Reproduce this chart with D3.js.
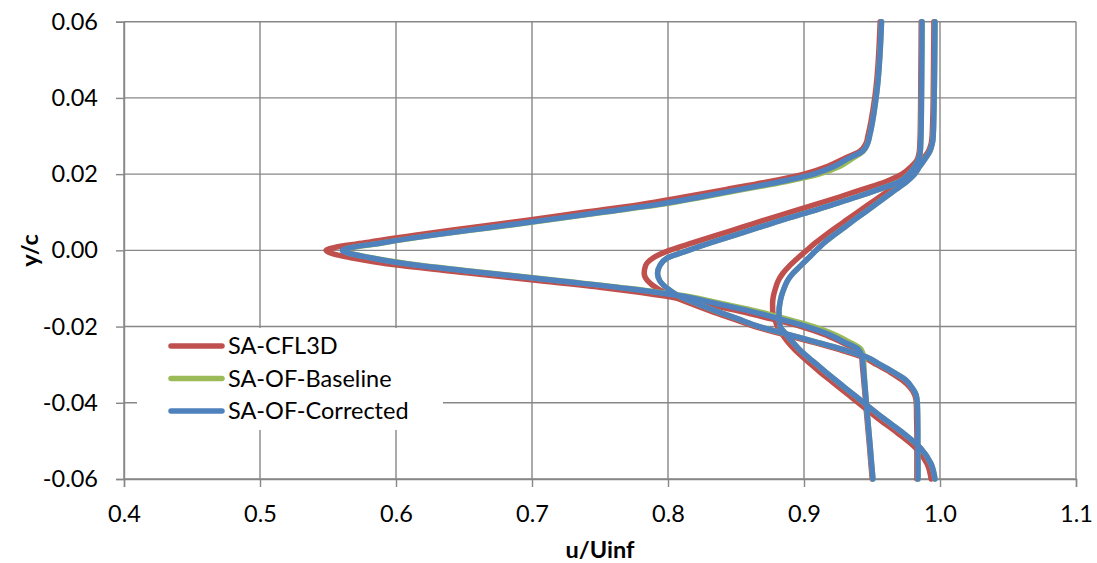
<!DOCTYPE html>
<html>
<head>
<meta charset="utf-8">
<script src="https://cdn.jsdelivr.net/npm/d3@7"></script>
<style>
  body { margin: 0; background: #fff; }
  text { font-family: Lato, "Open Sans", sans-serif; fill: #000; }
</style>
</head>
<body>
<div id="chart"></div>
<script>
// y/c stations shared by every profile
var yc = [0.06, 0.04, 0.03, 0.028, 0.026, 0.024, 0.022, 0.020, 0.018, 0.016, 0.014,
  0.012, 0.010, 0.008, 0.006, 0.004, 0.002, 0.000, -0.002, -0.004, -0.006, -0.008,
  -0.010, -0.012, -0.014, -0.016, -0.018, -0.020, -0.022, -0.024, -0.026, -0.028,
  -0.030, -0.032, -0.034, -0.036, -0.038, -0.040, -0.044, -0.048, -0.052, -0.056, -0.060];

// SA-CFL3D, three wake stations
var cfl3dA = [0.956, 0.952, 0.947, 0.9455, 0.941, 0.929, 0.917, 0.900, 0.874, 0.843, 0.812,
  0.779, 0.738, 0.698, 0.656, 0.614, 0.577, 0.5485, 0.568, 0.604, 0.655, 0.706,
  0.757, 0.798, 0.826, 0.853, 0.876, 0.898, 0.9145, 0.927, 0.9385, 0.9425,
  0.9429, 0.9434, 0.9439, 0.9444, 0.9449, 0.9453, 0.9463, 0.9473, 0.9483, 0.9492, 0.9502];
var cfl3dB = [0.9862, 0.9858, 0.9854, 0.9852, 0.9848, 0.9835, 0.979, 0.972, 0.960, 0.943, 0.926,
  0.908, 0.890, 0.8715, 0.854, 0.836, 0.8185, 0.801, 0.789, 0.7835, 0.7825, 0.785,
  0.792, 0.803, 0.817, 0.832, 0.848, 0.864, 0.8845, 0.9055, 0.9255, 0.943,
  0.9535, 0.9635, 0.972, 0.978, 0.9815, 0.9826, 0.9828, 0.983, 0.983, 0.983, 0.983];
var cfl3dC = [0.9955, 0.995, 0.9942, 0.9935, 0.9915, 0.9875, 0.983, 0.978, 0.9715, 0.9635, 0.9555,
  0.9475, 0.9395, 0.9315, 0.9235, 0.9158, 0.9085, 0.902, 0.8955, 0.8895, 0.8845, 0.881,
  0.879, 0.8775, 0.8769, 0.877, 0.8785, 0.8805, 0.884, 0.888, 0.893, 0.899,
  0.9055, 0.912, 0.919, 0.926, 0.933, 0.940, 0.954, 0.969, 0.9825, 0.9905, 0.9935];

// SA-OF-Baseline
var baseA = [0.957, 0.953, 0.9482, 0.9467, 0.9435, 0.935, 0.926, 0.911, 0.886, 0.856, 0.826,
  0.794, 0.753, 0.713, 0.671, 0.628, 0.591, 0.561, 0.583, 0.619, 0.670, 0.721,
  0.772, 0.813, 0.840, 0.866, 0.887, 0.907, 0.922, 0.933, 0.942, 0.9438,
  0.9440, 0.9443, 0.9446, 0.9450, 0.9454, 0.9458, 0.9468, 0.9478, 0.9488, 0.9497, 0.9507];
var baseB = [0.9868, 0.9864, 0.986, 0.9858, 0.9855, 0.9845, 0.9815, 0.977, 0.970, 0.955, 0.9387,
  0.9212, 0.9034, 0.8843, 0.8668, 0.8492, 0.8316, 0.815, 0.7995, 0.794, 0.7923, 0.794,
  0.7995, 0.808, 0.8213, 0.836, 0.8515, 0.867, 0.8875, 0.9085, 0.9287, 0.946,
  0.956, 0.966, 0.9747, 0.9794, 0.9825, 0.9833, 0.9836, 0.9837, 0.9837, 0.9838, 0.9838];
var baseC = [0.9963, 0.9957, 0.995, 0.9943, 0.9925, 0.989, 0.985, 0.9813, 0.9753, 0.9677, 0.960,
  0.9525, 0.9448, 0.937, 0.9296, 0.922, 0.9149, 0.909, 0.9033, 0.8976, 0.8919, 0.8878,
  0.8853, 0.8834, 0.8822, 0.8816, 0.8818, 0.8826, 0.8868, 0.8915, 0.8966, 0.9029,
  0.9096, 0.9162, 0.923, 0.930, 0.937, 0.944, 0.9581, 0.9732, 0.986, 0.9934, 0.9963];

// SA-OF-Corrected
var corrA = [0.957, 0.953, 0.9482, 0.9467, 0.943, 0.932, 0.922, 0.907, 0.8825, 0.853, 0.8235,
  0.7915, 0.7507, 0.711, 0.6694, 0.627, 0.590, 0.5605, 0.582, 0.617, 0.668, 0.719,
  0.770, 0.810, 0.836, 0.861, 0.882, 0.902, 0.918, 0.929, 0.940, 0.9428,
  0.9434, 0.9439, 0.9444, 0.9449, 0.9454, 0.9458, 0.9468, 0.9478, 0.9488, 0.9497, 0.9507];
var corrB = [0.9868, 0.9864, 0.986, 0.9858, 0.9855, 0.9845, 0.9815, 0.977, 0.970, 0.955, 0.9387,
  0.9212, 0.9034, 0.8843, 0.8668, 0.8492, 0.8316, 0.815, 0.7995, 0.794, 0.7923, 0.794,
  0.7995, 0.808, 0.8213, 0.836, 0.8515, 0.867, 0.8875, 0.9085, 0.9287, 0.946,
  0.956, 0.966, 0.9747, 0.9794, 0.9825, 0.9833, 0.9836, 0.9837, 0.9837, 0.9838, 0.9838];
var corrC = [0.9963, 0.9957, 0.995, 0.9943, 0.9925, 0.989, 0.985, 0.9813, 0.9753, 0.9677, 0.960,
  0.9525, 0.9448, 0.937, 0.9296, 0.922, 0.9149, 0.909, 0.9033, 0.8976, 0.8919, 0.8878,
  0.8853, 0.8834, 0.8822, 0.8816, 0.8818, 0.8826, 0.8868, 0.8915, 0.8966, 0.9029,
  0.9096, 0.9162, 0.923, 0.930, 0.937, 0.944, 0.9581, 0.9732, 0.986, 0.9934, 0.9963];

var seriesNames = ["SA-CFL3D", "SA-OF-Baseline", "SA-OF-Corrected"];
var seriesColors = ["#C0504D", "#9BBB59", "#4F81BD"];
var xTicks = [0.4, 0.5, 0.6, 0.7, 0.8, 0.9, 1.0, 1.1];
var yTicks = [-0.06, -0.04, -0.02, 0.00, 0.02, 0.04, 0.06];

var series = [
  { name: seriesNames[0], color: seriesColors[0], profiles: [cfl3dA, cfl3dB, cfl3dC] },
  { name: seriesNames[1], color: seriesColors[1], profiles: [baseA, baseB, baseC] },
  { name: seriesNames[2], color: seriesColors[2], profiles: [corrA, corrB, corrC] }
];

// svg area
var svgWidth = 1097;
var svgHeight = 563;
var margin = { top: 21.7, right: 21, bottom: 84, left: 124 };
var width = svgWidth - margin.left - margin.right;
var height = svgHeight - margin.top - margin.bottom;

var svg = d3.select("#chart")
  .append("svg")
  .attr("width", svgWidth)
  .attr("height", svgHeight);

var chartGroup = svg.append("g")
  .attr("transform", `translate(${margin.left}, ${margin.top})`);

var xScale = d3.scaleLinear().domain([0.4, 1.1]).range([0, width]);
var yScale = d3.scaleLinear().domain([-0.06, 0.06]).range([height, 0]);

var gridColor = "#878787";

// gridlines
chartGroup.append("g")
  .selectAll("line")
  .data(xTicks)
  .enter()
  .append("line")
  .attr("x1", d => xScale(d)).attr("x2", d => xScale(d))
  .attr("y1", 0).attr("y2", height)
  .attr("stroke", gridColor)
  .attr("stroke-width", 1.4);

chartGroup.append("g")
  .selectAll("line")
  .data(yTicks)
  .enter()
  .append("line")
  .attr("x1", 0).attr("x2", width)
  .attr("y1", d => yScale(d)).attr("y2", d => yScale(d))
  .attr("stroke", gridColor)
  .attr("stroke-width", 1.4);

// axes
var bottomAxis = d3.axisBottom(xScale)
  .tickValues(xTicks)
  .tickSize(8)
  .tickPadding(10)
  .tickFormat(d => d.toFixed(1));
var leftAxis = d3.axisLeft(yScale)
  .tickValues(yTicks)
  .tickSize(8)
  .tickPadding(18)
  .tickFormat(d => d.toFixed(2));

var xAxis = chartGroup.append("g")
  .attr("transform", `translate(0, ${height})`)
  .call(bottomAxis);
var yAxis = chartGroup.append("g")
  .call(leftAxis);

[xAxis, yAxis].forEach(function(ax) {
  ax.selectAll("path").attr("stroke", gridColor).attr("stroke-width", 1.4);
  ax.selectAll("line").attr("stroke", gridColor).attr("stroke-width", 1.4);
  ax.selectAll("text")
    .style("font-family", "Lato, 'Open Sans', sans-serif")
    .style("font-size", "23.5px")
    .attr("fill", "#000");
});
xAxis.selectAll("text").attr("dy", "1.05em");

// profiles
var line = d3.line()
  .x(d => xScale(d[0]))
  .y(d => yScale(d[1]))
  .curve(d3.curveMonotoneY);

series.forEach(function(s) {
  chartGroup.append("g")
    .selectAll("path")
    .data(s.profiles)
    .enter()
    .append("path")
    .attr("d", p => line(p.map((u, i) => [u, yc[i]])))
    .attr("fill", "none")
    .attr("stroke", s.color)
    .attr("stroke-width", 5.5)
    .attr("stroke-linejoin", "round")
    .attr("stroke-linecap", "round");
});

// legend
var legend = svg.append("g");
legend.append("rect")
  .attr("x", 137).attr("y", 328)
  .attr("width", 306).attr("height", 102)
  .attr("fill", "#fff");

var legendItems = legend.selectAll("g.item")
  .data(series)
  .enter()
  .append("g")
  .attr("class", "item")
  .attr("transform", (d, i) => `translate(0, ${346 + i * 32.5})`);

legendItems.append("line")
  .attr("x1", 171).attr("x2", 222)
  .attr("y1", 0).attr("y2", 0)
  .attr("stroke", d => d.color)
  .attr("stroke-width", 5.5)
  .attr("stroke-linecap", "round");

legendItems.append("text")
  .attr("x", 228)
  .attr("y", 8)
  .style("font-size", "23.5px")
  .text(d => d.name);

// axis titles
svg.append("text")
  .attr("x", margin.left + width / 2)
  .attr("y", 558)
  .attr("text-anchor", "middle")
  .style("font-size", "23.5px")
  .style("font-weight", "bold")
  .text("u/Uinf");

svg.append("text")
  .attr("transform", `translate(38, ${margin.top + height / 2}) rotate(-90)`)
  .attr("text-anchor", "middle")
  .style("font-size", "23.5px")
  .style("font-weight", "bold")
  .text("y/c");
</script>
</body>
</html>
